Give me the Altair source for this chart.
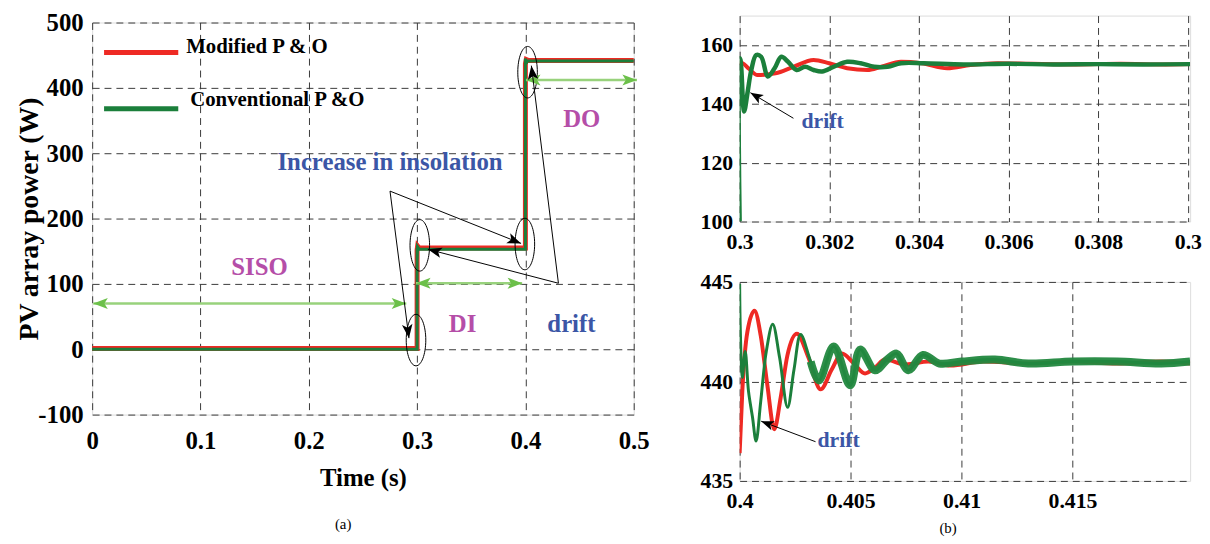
import math
import altair as alt
import pandas as pd

FONT = "Liberation Serif"
RED = "#ee2a24"
GREEN = "#1b7f3b"
BLUE = "#3b56a6"
MAGENTA = "#b54ea8"
LG_SHAFT = "#98d27c"
LG_HEAD = "#6cc04a"

# ---------------- panel (a) ----------------
a_mod_t = [0, 0.3, 0.3, 0.3005, 0.302, 0.4, 0.4, 0.4008, 0.403, 0.5]
a_mod_p = [1, 1, 152, 158, 155, 155, 437, 443.5, 442, 442]
a_con_t = [0, 0.3, 0.3, 0.3001, 0.3004, 0.302, 0.4, 0.4, 0.4007, 0.4015, 0.5]
a_con_p = [0, 0, 155, 137, 157, 153, 153, 445, 437, 441, 441]
a_xticks = [0, 0.1, 0.2, 0.3, 0.4, 0.5]
a_yticks = [-100, 0, 100, 200, 300, 400, 500]

a_text = ["Increase in insolation", "SISO", "DI", "DO", "drift"]
a_text_t = [0.275, 0.1545, 0.342, 0.452, 0.4425]
a_text_p = [286, 125, 39, 353, 39]
a_text_c = [BLUE, MAGENTA, MAGENTA, MAGENTA, BLUE]

a_ell_t = [0.299, 0.3025, 0.3995, 0.402]
a_ell_p = [14, 159, 161, 424]

# black callouts: start -> arrow tip
a_call_t0 = [0.275, 0.275, 0.4305, 0.4305]
a_call_p0 = [242, 242, 101, 101]
a_call_t1 = [0.2925, 0.396, 0.310, 0.4055]
a_call_p1 = [17, 162, 153, 434]

# green double arrows
a_span_t0 = [0.001, 0.299, 0.4005]
a_span_t1 = [0.290, 0.397, 0.503]
a_span_p = [70, 101, 412]

leg_names = ["Modified P & O", "Conventional P &O"]
leg_cols = [RED, GREEN]
leg_t0 = [0.011, 0.011]
leg_t1 = [0.0795, 0.0795]
leg_p = [454, 368]
leg_text_t = [0.0868, 0.0905]
leg_text_p = [462, 381]

# ---------------- panel (b) top ----------------
b1_mod_t = [0.3, 0.30007, 0.3002, 0.3004, 0.3008, 0.3012, 0.30165, 0.3020, 0.3024,
            0.30285, 0.30316, 0.3036, 0.30406, 0.30463, 0.30515, 0.30576, 0.3065,
            0.3075, 0.3085, 0.3095, 0.31005]
b1_mod_p = [154.0, 153.8, 152.0, 149.8, 150.4, 152.6, 154.9, 153.8, 152.1,
            151.5, 152.6, 154.3, 153.8, 152.1, 153.2, 153.8, 153.6,
            153.4, 153.6, 153.4, 153.5]
b1_con_t = [0.3, 0.3, 0.30002, 0.3001, 0.30018, 0.30026, 0.30037, 0.30048, 0.30063,
            0.30078, 0.30093, 0.30108, 0.30127, 0.30146, 0.30165, 0.30184, 0.3021,
            0.3024, 0.3027, 0.3030, 0.3033, 0.3036, 0.3041, 0.3050, 0.3060, 0.3070,
            0.3080, 0.3090, 0.31005]
b1_con_p = [100, 155.5, 154.9, 137.4, 144.2, 151.5, 156.6, 156.0, 149.3,
            152.1, 156.0, 154.3, 151.5, 152.6, 151.5, 151.0, 152.6,
            154.3, 153.8, 152.6, 152.6, 153.8, 153.8, 153.4, 153.6, 153.4,
            153.5, 153.4, 153.5]
b1_xticks = [0.3, 0.302, 0.304, 0.306, 0.308, 0.31]
b1_yticks = [100, 120, 140, 160]
b1_drift_t, b1_drift_p = 0.30185, 134
b1_arr = (0.3012, 135.1, 0.30024, 143.8)

# ---------------- panel (b) bottom ----------------
b2_mod_t = [0.4, 0.40012, 0.40035, 0.40067, 0.40095, 0.40125, 0.40156, 0.40185,
            0.40215, 0.40258, 0.4031, 0.40365, 0.40415, 0.40461, 0.40515, 0.40565,
            0.4061, 0.40655, 0.4075, 0.4085, 0.4095, 0.4110, 0.4130, 0.4150, 0.4170,
            0.4190, 0.4203]
b2_mod_p = [436.4, 439.5, 442.5, 443.55, 442.3, 439.8, 437.6, 439.2,
            441.3, 442.4, 441.2, 439.6, 440.6, 441.4, 440.9, 440.4,
            440.7, 441.1, 440.85, 441.0, 440.8, 441.0, 440.9, 441.0, 440.9,
            441.0, 440.9]
b2_con_t = [0.4, 0.40003, 0.40012, 0.40025, 0.4004, 0.40058, 0.40074, 0.40095,
            0.4012, 0.40149, 0.4018, 0.40216, 0.40245, 0.40275, 0.4032, 0.40357,
            0.40424, 0.40498, 0.40543, 0.4061, 0.40665, 0.40707, 0.4076, 0.40826,
            0.409, 0.4100, 0.4115, 0.4130, 0.4150, 0.4170, 0.4190, 0.4203]
b2_con_p = [444.9, 442.6, 440.2, 441.5, 439.5, 438.2, 437.0, 439.0,
            441.5, 442.87, 441.2, 438.7, 440.6, 442.36, 441.0, 440.05,
            441.76, 439.8, 441.6, 440.56, 441.1, 441.4, 440.56, 441.33,
            440.9, 441.0, 441.1, 440.9, 441.0, 441.0, 440.9, 441.0]
b2_xticks = [0.4, 0.405, 0.41, 0.415]
b2_yticks = [435, 440, 445]
b2_drift_t, b2_drift_p = 0.40446, 437.06
b2_arr = (0.40342, 436.97, 0.40097, 438.0)

# ---------------- helpers ----------------
HEAD = "M0,0L0.65,1.7L0,1.3L-0.65,1.7Z"
ELLIPSE = "M0,-1A0.38,1,0,1,1,0,1A0.38,1,0,1,1,0,-1Z"
LABEL_EXPR = "'' + datum.value"


def angle_of(t0, p0, t1, p1, sx, sy):
    dx = (t1 - t0) * sx
    dy = -(p1 - p0) * sy
    return math.degrees(math.atan2(dx, -dy)) % 360


def axis_cfg(values, title, lsize, lpad, expr=LABEL_EXPR, **kw):
    opts = dict(values=values, labelExpr=expr, title=title, grid=True,
                gridDash=[7, 5], gridColor="#3a3a3a", gridWidth=1, labelFlush=False,
                ticks=False, domain=False, labelFont=FONT, labelFontSize=lsize,
                labelFontWeight="bold", labelColor="black", labelPadding=lpad,
                titleFont=FONT, titleFontWeight="bold", titleColor="black")
    opts.update(kw)
    return alt.Axis(**opts)


def series_df(t1, p1, t2, p2):
    return pd.concat([
        pd.DataFrame({"t": t1, "p": p1, "s": "Modified P & O", "o": range(len(t1))}),
        pd.DataFrame({"t": t2, "p": p2, "s": "Conventional P &O", "o": range(len(t2))}),
    ])


def spacer(h):
    # invisible block that only shifts the panel below it downwards
    return alt.Chart(pd.DataFrame({"z": [0]})).mark_rule(
        strokeWidth=0, opacity=0).encode(
        x=alt.value(0), x2=alt.value(1), y=alt.value(0)).properties(
        width=1, height=h, view=alt.ViewBackground(stroke="transparent", strokeWidth=0))


# ---------------- panel (a) chart ----------------
AW, AH = 547, 396
sxa, sya = AW / 0.5, AH / 600
xa = alt.X("t:Q", scale=alt.Scale(domain=[0, 0.5], nice=False),
           axis=axis_cfg(a_xticks, "Time (s)", 25, 14, titleFontSize=25, titlePadding=13))
ya = alt.Y("p:Q", scale=alt.Scale(domain=[-100, 500], nice=False),
           axis=axis_cfg(a_yticks, "PV array power (W)", 25, 9, titleFontSize=28,
                         titleX=-63, titleY=AH / 2, titleBaseline="middle"))

dfa = series_df(a_mod_t, a_mod_p, a_con_t, a_con_p)
base_a = alt.Chart(dfa)
red_a = base_a.transform_filter(alt.datum.s == "Modified P & O").mark_line(
    color=RED, strokeWidth=5).encode(x=xa, y=ya, order="o:Q")
grn_a = base_a.transform_filter(alt.datum.s == "Conventional P &O").mark_line(
    color=GREEN, strokeWidth=3).encode(x="t:Q", y="p:Q", order="o:Q")

leg_df = pd.DataFrame({"t0": leg_t0, "t1": leg_t1, "p": leg_p, "c": leg_cols,
                       "name": leg_names, "tt": leg_text_t, "tp": leg_text_p})
leg_lines = alt.Chart(leg_df).mark_rule(strokeWidth=5).encode(
    x="t0:Q", x2="t1:Q", y="p:Q", color=alt.Color("c:N", scale=None))
leg_texts = alt.Chart(leg_df).mark_text(
    font=FONT, fontSize=21, fontWeight="bold", align="left", baseline="middle",
    color="black").encode(x="tt:Q", y="tp:Q", text="name:N")

ell_df = pd.DataFrame({"t": a_ell_t, "p": a_ell_p})
ells = alt.Chart(ell_df).mark_point(shape=ELLIPSE, size=2704, filled=False,
                                    color="black", strokeWidth=1, opacity=1).encode(
    x="t:Q", y="p:Q")

call_df = pd.DataFrame({"t0": a_call_t0, "p0": a_call_p0, "t1": a_call_t1, "p1": a_call_p1})
call_df["ang"] = [angle_of(a, b, c, d, sxa, sya) for a, b, c, d in
                  zip(a_call_t0, a_call_p0, a_call_t1, a_call_p1)]
call_lines = alt.Chart(call_df).mark_rule(color="black", strokeWidth=1).encode(
    x="t0:Q", y="p0:Q", x2="t1:Q", y2="p1:Q")
call_heads = alt.Chart(call_df).mark_point(shape=HEAD, size=270, filled=True,
                                           color="black", opacity=1).encode(
    x="t1:Q", y="p1:Q", angle=alt.Angle("ang:Q", scale=None))

span_df = pd.DataFrame({"t0": a_span_t0, "t1": a_span_t1, "p": a_span_p})
span_lines = alt.Chart(span_df).mark_rule(color=LG_SHAFT, strokeWidth=2.5).encode(
    x="t0:Q", x2="t1:Q", y="p:Q")
span_heads_l = alt.Chart(span_df).mark_point(shape=HEAD, size=300, filled=True,
                                             color=LG_HEAD, opacity=1, angle=270).encode(
    x="t0:Q", y="p:Q")
span_heads_r = alt.Chart(span_df).mark_point(shape=HEAD, size=300, filled=True,
                                             color=LG_HEAD, opacity=1, angle=90).encode(
    x="t1:Q", y="p:Q")

txt_df = pd.DataFrame({"t": a_text_t, "p": a_text_p, "txt": a_text, "c": a_text_c})
txts = alt.Chart(txt_df).mark_text(font=FONT, fontSize=25, fontWeight="bold",
                                   baseline="middle").encode(
    x="t:Q", y="p:Q", text="txt:N", color=alt.Color("c:N", scale=None))

panel_a = alt.layer(red_a, grn_a, leg_lines, leg_texts, ells, span_lines, span_heads_l,
                    span_heads_r, call_lines, call_heads, txts).properties(
    width=AW, height=AH,
    title=alt.TitleParams("(a)", orient="bottom", font=FONT, fontSize=15,
                          fontWeight="normal", color="black", offset=27, dx=-20))

# ---------------- panel (b) charts ----------------
BW = 455
B1H, B2H = 208, 201


def zoom_panel(mt, mp, ct, cp, xdom, ydom, xticks, yticks, h, drift, arr, thick_from,
               con_w, xexpr, title=None):
    sx = BW / (xdom[1] - xdom[0])
    sy = h / (ydom[1] - ydom[0])
    df = series_df(mt, mp, ct, cp)
    x = alt.X("t:Q", scale=alt.Scale(domain=xdom, nice=False),
              axis=axis_cfg(xticks, None, 22, 10, expr=xexpr))
    y = alt.Y("p:Q", scale=alt.Scale(domain=ydom, nice=False),
              axis=axis_cfg(yticks, None, 22, 7))
    base = alt.Chart(df)
    red = base.transform_filter(alt.datum.s == "Modified P & O").mark_line(
        color=RED, strokeWidth=4, clip=True, interpolate="monotone").encode(
        x=x, y=y, order="o:Q")
    grn = base.transform_filter(alt.datum.s == "Conventional P &O").mark_line(
        color=GREEN, strokeWidth=con_w, clip=True, interpolate="catmull-rom").encode(
        x="t:Q", y="p:Q", order="o:Q")
    layers = [red, grn]
    if thick_from is not None:
        thick = base.transform_filter(
            (alt.datum.s == "Conventional P &O") & (alt.datum.t >= thick_from)).mark_line(
            color="#22883f", strokeWidth=8, opacity=0.95, clip=True,
            interpolate="catmull-rom").encode(x="t:Q", y="p:Q", order="o:Q")
        layers.append(thick)
    adf = pd.DataFrame({"t0": [arr[0]], "p0": [arr[1]], "t1": [arr[2]], "p1": [arr[3]],
                        "ang": [angle_of(arr[0], arr[1], arr[2], arr[3], sx, sy)],
                        "dt": [drift[0]], "dp": [drift[1]], "txt": ["drift"]})
    layers.append(alt.Chart(adf).mark_rule(color="black", strokeWidth=1).encode(
        x="t0:Q", y="p0:Q", x2="t1:Q", y2="p1:Q"))
    layers.append(alt.Chart(adf).mark_point(shape=HEAD, size=230, filled=True,
                                            color="black", opacity=1).encode(
        x="t1:Q", y="p1:Q", angle=alt.Angle("ang:Q", scale=None)))
    layers.append(alt.Chart(adf).mark_text(font=FONT, fontSize=22, fontWeight="bold",
                                           color=BLUE, baseline="middle").encode(
        x="dt:Q", y="dp:Q", text="txt:N"))
    props = dict(width=BW, height=h)
    if title is not None:
        props["title"] = title
    return alt.layer(*layers).properties(**props)


panel_b1 = zoom_panel(b1_mod_t, b1_mod_p, b1_con_t, b1_con_p, [0.3, 0.31005], [100, 170],
                      b1_xticks, b1_yticks, B1H, (b1_drift_t, b1_drift_p), b1_arr, None, 4.5,
                      "datum.value > 0.3099 ? '0.3' : '' + datum.value")
panel_b2 = zoom_panel(b2_mod_t, b2_mod_p, b2_con_t, b2_con_p, [0.4, 0.4203], [435, 445],
                      b2_xticks, b2_yticks, B2H, (b2_drift_t, b2_drift_p), b2_arr, 0.4032, 3,
                      LABEL_EXPR,
                      title=alt.TitleParams("(b)", orient="bottom", font=FONT, fontSize=15,
                                            fontWeight="normal", color="black", offset=10,
                                            dx=-17))

left = alt.vconcat(spacer(1), panel_a, spacing=0)
right = alt.vconcat(spacer(6), alt.vconcat(panel_b1, panel_b2, spacing=17), spacing=0)
chart = alt.hconcat(left, right, spacing=49).properties(
    padding={"left": 7, "top": -2, "right": 0, "bottom": 0}
).configure_view(stroke="black", strokeWidth=3).configure_axis(
    labelFont=FONT, titleFont=FONT).configure_text(font=FONT).configure(background="white")

chart.save("out.html", embed_options={"renderer": "svg", "actions": False})
